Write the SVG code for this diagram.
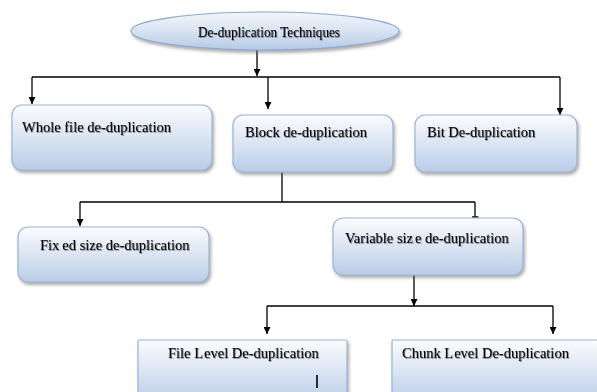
<svg xmlns="http://www.w3.org/2000/svg" width="597" height="392" viewBox="0 0 597 392">
<defs>
<linearGradient id="boxg" x1="0" y1="0" x2="0" y2="1">
<stop offset="0" stop-color="#fbfcfe"/>
<stop offset="1" stop-color="#bacde7"/>
</linearGradient>
<linearGradient id="ellg" x1="0" y1="0" x2="0" y2="1">
<stop offset="0" stop-color="#f3f6fb"/>
<stop offset="0.5" stop-color="#d8e3f2"/>
<stop offset="1" stop-color="#b5c9e5"/>
</linearGradient>
<filter id="sh" x="-10%" y="-10%" width="120%" height="130%">
<feDropShadow dx="1.5" dy="2.5" stdDeviation="1.5" flood-color="#6b6b6b" flood-opacity="0.55"/>
</filter>
<filter id="tsh" x="-5%" y="-20%" width="110%" height="140%">
<feDropShadow dx="0.7" dy="0.7" stdDeviation="0.4" flood-color="#333" flood-opacity="0.75"/>
</filter>
<marker id="ah" viewBox="0 0 10 10" refX="10" refY="5" markerWidth="7" markerHeight="7" markerUnits="userSpaceOnUse" orient="auto">
<path d="M0,0 L10,5 L0,10 z" fill="#000"/>
</marker>
<marker id="tee" viewBox="0 0 10 10" refX="5" refY="5" markerWidth="7" markerHeight="7" markerUnits="userSpaceOnUse" orient="auto">
<path d="M5,0 L5,10" stroke="#000" stroke-width="2"/>
</marker>
</defs>
<style>
.box{fill:url(#boxg);stroke:#9cb3d4;stroke-width:1.2;filter:url(#sh)}
.ell{fill:url(#ellg);stroke:#8fa9cf;stroke-width:1.2;filter:url(#sh)}
.t{font-family:"Liberation Serif","Times New Roman",serif;font-size:14.5px;fill:#000;filter:url(#tsh)}
.te{font-size:14px}
.c{fill:none;stroke:#000;stroke-width:1.3}
.a{marker-end:url(#ah)}
</style>

<g id="connectors">
<line class="c a" x1="257" y1="50" x2="257" y2="76"/>
<line class="c" x1="32" y1="77" x2="560" y2="77"/>
<line class="c a" x1="32" y1="77" x2="32" y2="104"/>
<line class="c a" x1="268" y1="77" x2="268" y2="109"/>
<line class="c a" x1="560" y1="77" x2="560" y2="115"/>
<line class="c" x1="282" y1="172" x2="282" y2="202"/>
<line class="c" x1="80" y1="202" x2="475" y2="202"/>
<line class="c a" x1="80" y1="202" x2="80" y2="226"/>
<line class="c" x1="475" y1="202" x2="475" y2="217" marker-end="url(#tee)"/>
<line class="c a" x1="414" y1="275" x2="414" y2="306"/>
<line class="c" x1="267" y1="306" x2="553" y2="306"/>
<line class="c a" x1="267" y1="306" x2="267" y2="334"/>
<line class="c a" x1="553" y1="306" x2="553" y2="334"/>
</g>

<g id="root">
<ellipse class="ell" cx="265" cy="31" rx="134" ry="19"/>
<text class="t te" x="198" y="37" textLength="142" lengthAdjust="spacingAndGlyphs">De-duplication Techniques</text>
</g>

<g id="whole">
<rect class="box" x="12" y="105" width="200" height="65" rx="10"/>
<text class="t" x="22" y="132">Whole file de-duplication</text>
</g>

<g id="block">
<rect class="box" x="233" y="115" width="160" height="57" rx="10"/>
<text class="t" x="245" y="137">Block de-duplication</text>
</g>

<g id="bit">
<rect class="box" x="415" y="115" width="162" height="57" rx="10"/>
<text class="t" x="427" y="137">Bit De-duplication</text>
</g>

<g id="fixed">
<rect class="box" x="18" y="227" width="191" height="55" rx="10"/>
<text class="t" x="40" y="250">Fix<tspan dx="3">ed size de-duplication</tspan></text>
</g>

<g id="variable">
<rect class="box" x="333" y="218" width="190" height="57" rx="10"/>
<text class="t" x="345" y="243">Variable siz<tspan dx="2">e de-duplication</tspan></text>
</g>

<g id="filelevel">
<rect class="box" x="138" y="340" width="209" height="62" rx="1"/>
<text class="t" x="168" y="358">File L<tspan dx="1">evel De-duplication</tspan></text>
<line x1="317" y1="375" x2="317" y2="388" stroke="#000" stroke-width="1.6"/>
</g>

<g id="chunklevel">
<rect class="box" x="392" y="340" width="215" height="62" rx="1"/>
<text class="t" x="402" y="358">Chunk L<tspan dx="1">evel De-duplication</tspan></text>
</g>
</svg>
